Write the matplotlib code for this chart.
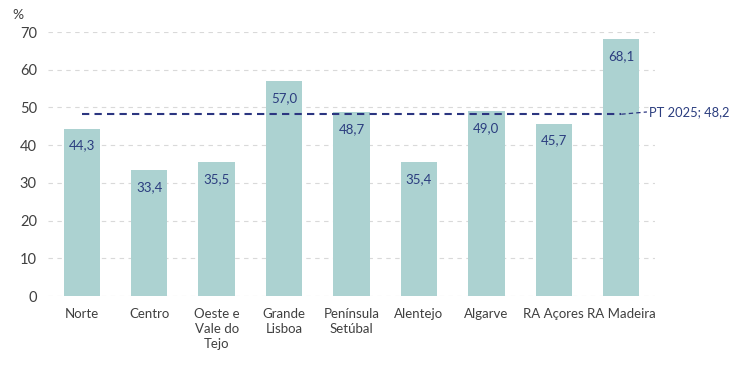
import matplotlib
matplotlib.use("Agg")
import matplotlib.pyplot as plt

categories = ["Norte", "Centro", "Oeste e\nVale do\nTejo", "Grande\nLisboa", "Península\nSetúbal",
              "Alentejo", "Algarve", "RA Açores", "RA Madeira"]
values = [44.3, 33.4, 35.5, 57.0, 48.7, 35.4, 49.0, 45.7, 68.1]
pt_value = 48.2
pt_label = "PT 2025; 48,2"
yticks = [0, 10, 20, 30, 40, 50, 60, 70]

plt.rcParams['font.family'] = ['Lato', 'DejaVu Sans']

fig = plt.figure(figsize=(7.48, 3.66), dpi=100)
ax = fig.add_axes([48/748, 1-296/366, (655-48)/748, (296-32)/366])

bar_color = "#acd2d1"
text_color = "#2b3d7f"
x = list(range(len(categories)))
ax.bar(x, values, width=0.54, color=bar_color, zorder=2)
ax.set_xlim(-0.5, len(categories)-0.5)
ax.set_ylim(0, 70)
ax.set_yticks(yticks)
ax.set_yticklabels([str(v) for v in yticks], fontsize=10.5, color="#404040")
ax.set_xticks(x)
ax.set_xticklabels(categories, fontsize=9.5, color="#404040", linespacing=1.25)
ax.tick_params(length=0, pad=8)
ax.tick_params(axis='x', pad=9)
for s in ax.spines.values():
    s.set_visible(False)
ax.yaxis.grid(True, linestyle=(0, (4, 4)), color="#d9d9d9", linewidth=0.8, zorder=0)

for xi, v in zip(x, values):
    ax.annotate(f"{v:.1f}".replace(".", ","), (xi, v), xytext=(0, -12), textcoords="offset points",
                ha="center", va="center", fontsize=9.5, color=text_color, zorder=3)

ax.plot([x[0], x[-1]], [pt_value, pt_value], linestyle=(0, (3.5, 2.5)), color="#2b3580",
        linewidth=1.5, zorder=4)
ax.plot([x[-1], x[-1] + 0.38], [pt_value, pt_value + 0.6], linestyle=(0, (3.5, 2.5)),
        color="#2b3580", linewidth=0.9, zorder=4, clip_on=False)
ax.annotate(pt_label, (x[-1] + 0.41, pt_value + 0.6), ha="left", va="center", fontsize=9.3,
            color=text_color, annotation_clip=False)

fig.text(12/748, 1-15/366, "%", fontsize=10, color="#404040", ha="left", va="center")

fig.savefig("out.png", dpi=100)
